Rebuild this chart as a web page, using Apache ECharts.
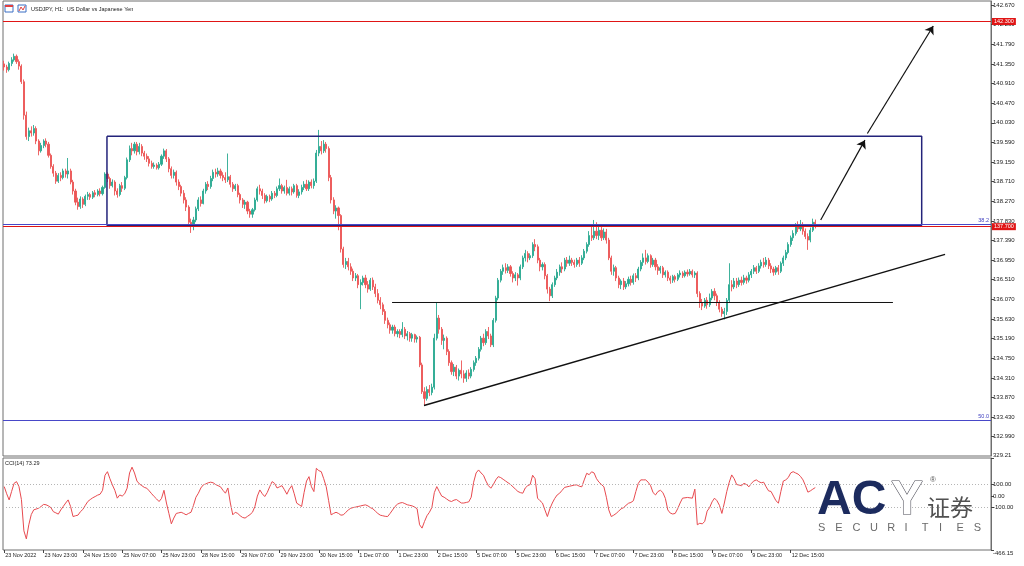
<!DOCTYPE html>
<html><head><meta charset="utf-8">
<script src="https://cdn.jsdelivr.net/npm/echarts@6/dist/echarts.min.js"></script>
<style>html,body{margin:0;padding:0;background:#fff}#c{width:1024px;height:566px}</style>
</head><body><div id="c"></div><script>
const chartTitle = 'USDJPY, H1:  US Dollar vs Japanese Yen';
const cciTitle = 'CCI(14) 73.29';
// [open, close, low, high] per H1 bar
const ohlc = [
[141.35,141.28,141.20,141.42],[141.28,141.22,141.15,141.33],[141.22,141.36,141.18,141.40],[141.36,141.44,141.30,141.50],
[141.44,141.52,141.40,141.58],[141.52,141.40,141.35,141.56],[141.40,141.30,141.22,141.45],[141.30,140.95,140.90,141.34],
[140.95,140.20,140.10,141.00],[140.20,139.72,139.65,140.28],[139.72,139.85,139.62,139.92],[139.85,139.80,139.72,139.95],
[139.80,139.90,139.74,139.98],[139.90,139.62,139.55,139.95],[139.62,139.40,139.30,139.66],[139.40,139.52,139.36,139.58],
[139.52,139.62,139.46,139.66],[139.62,139.55,139.48,139.68],[139.55,139.30,139.25,139.60],[139.30,139.05,139.00,139.34],
[139.05,138.90,138.82,139.10],[138.90,138.72,138.66,138.95],[138.72,138.85,138.68,138.90],[138.85,138.80,138.72,138.92],
[138.80,138.95,138.76,139.00],[138.95,138.88,138.80,139.00],[138.88,138.95,138.78,139.24],[138.95,138.70,138.65,139.00],
[138.70,138.50,138.42,138.75],[138.50,138.25,138.18,138.55],[138.25,138.15,138.08,138.35],[138.15,138.32,138.10,138.38],
[138.32,138.20,138.12,138.36],[138.20,138.38,138.16,138.42],[138.38,138.42,138.30,138.48],[138.42,138.36,138.30,138.46],
[138.36,138.46,138.32,138.50],[138.46,138.42,138.36,138.52],[138.42,138.50,138.38,138.54],[138.50,138.44,138.38,138.56],
[138.44,138.58,138.40,138.62],[138.58,138.88,138.55,138.92],[138.88,138.78,138.70,138.92],[138.78,138.62,138.55,138.82],
[138.62,138.70,138.58,138.76],[138.70,138.50,138.40,138.74],[138.50,138.42,138.35,138.56],[138.42,138.62,138.38,138.66],
[138.62,138.56,138.48,138.70],[138.56,138.80,138.52,138.84],[138.80,139.20,138.76,139.25],[139.20,139.45,139.15,139.52],
[139.45,139.40,139.30,139.58],[139.40,139.55,139.34,139.60],[139.55,139.38,139.30,139.60],[139.38,139.50,139.32,139.58],
[139.50,139.35,139.28,139.55],[139.35,139.28,139.20,139.40],[139.28,139.22,139.15,139.34],[139.22,139.12,139.05,139.28],
[139.12,139.05,139.00,139.18],[139.05,139.08,139.00,139.14],[139.08,139.02,138.98,139.12],[139.02,139.10,138.98,139.15],
[139.10,139.28,139.06,139.32],[139.28,139.40,139.22,139.45],[139.40,139.22,139.15,139.44],[139.22,139.00,138.92,139.26],
[139.00,138.85,138.78,139.05],[138.85,138.92,138.78,138.98],[138.92,138.70,138.62,138.96],[138.70,138.60,138.52,138.76],
[138.60,138.45,138.38,138.64],[138.45,138.30,138.22,138.52],[138.30,138.14,138.05,138.36],[138.14,137.80,137.75,138.18],
[137.80,137.75,137.56,137.88],[137.75,137.85,137.62,137.92],[137.85,138.10,137.80,138.15],[138.10,138.30,138.05,138.36],
[138.30,138.22,138.15,138.38],[138.22,138.50,138.20,138.55],[138.50,138.65,138.44,138.70],[138.65,138.60,138.52,138.72],
[138.60,138.78,138.55,138.84],[138.78,138.92,138.72,138.98],[138.92,138.88,138.80,139.00],[138.88,138.95,138.82,139.02],
[138.95,138.85,138.78,139.00],[138.85,138.80,138.72,138.92],[138.80,138.75,138.68,138.92],[138.75,138.82,138.70,139.34],
[138.82,138.65,138.58,138.86],[138.65,138.55,138.48,138.70],[138.55,138.62,138.50,138.66],[138.62,138.42,138.36,138.66],
[138.42,138.30,138.22,138.46],[138.30,138.20,138.12,138.34],[138.20,138.25,138.10,138.30],[138.25,138.05,137.98,138.28],
[138.05,137.98,137.90,138.10],[137.98,138.08,137.90,138.12],[138.08,138.30,138.04,138.35],[138.30,138.55,138.26,138.60],
[138.55,138.50,138.42,138.64],[138.50,138.40,138.32,138.55],[138.40,138.28,138.22,138.45],[138.28,138.38,138.24,138.42],
[138.38,138.32,138.25,138.42],[138.32,138.45,138.28,138.50],[138.45,138.40,138.34,138.50],[138.40,138.55,138.36,138.60],
[138.55,138.62,138.50,138.78],[138.62,138.50,138.44,138.66],[138.50,138.58,138.44,138.62],[138.58,138.45,138.40,138.75],
[138.45,138.55,138.40,138.60],[138.55,138.48,138.40,138.60],[138.48,138.62,138.44,138.66],[138.62,138.40,138.35,138.66],
[138.40,138.48,138.34,138.54],[138.48,138.58,138.42,138.64],[138.58,138.65,138.52,138.72],[138.65,138.55,138.50,138.75],
[138.55,138.70,138.50,138.74],[138.70,138.62,138.56,138.76],[138.62,138.72,138.55,138.78],[138.72,139.35,138.68,139.42],
[139.35,139.50,139.28,139.87],[139.50,139.40,139.32,139.62],[139.40,139.55,139.35,139.64],[139.55,139.45,139.36,139.60],
[139.45,138.80,138.72,139.50],[138.80,138.30,138.22,138.86],[138.30,138.05,137.98,138.36],[138.05,138.12,137.88,138.18],
[138.12,137.95,137.62,138.15],[137.95,137.20,137.12,137.98],[137.20,136.85,136.78,137.25],[136.85,136.92,136.75,137.00],
[136.92,136.80,136.72,137.00],[136.80,136.70,136.62,136.88],[136.70,136.55,136.48,136.76],[136.55,136.60,136.48,136.66],
[136.60,136.40,136.32,136.64],[136.40,136.45,135.85,136.52],[136.45,136.55,136.38,136.60],[136.55,136.40,136.32,136.62],
[136.40,136.30,136.22,136.48],[136.30,136.50,136.26,136.55],[136.50,136.35,136.28,136.56],[136.35,136.20,136.12,136.42],
[136.20,136.05,135.98,136.30],[136.05,135.95,135.85,136.12],[135.95,135.80,135.72,136.00],[135.80,135.60,135.52,135.85],
[135.60,135.50,135.42,135.66],[135.50,135.38,135.30,135.55],[135.38,135.45,135.30,135.50],[135.45,135.30,135.24,135.50],
[135.30,135.35,135.22,135.40],[135.35,135.28,135.20,135.40],[135.28,135.40,135.22,135.56],[135.40,135.25,135.18,135.45],
[135.25,135.30,135.15,135.36],[135.30,135.20,135.12,135.34],[135.20,135.28,135.12,135.32],[135.28,135.18,135.10,135.30],
[135.18,135.22,135.10,135.26],[135.22,134.60,134.55,135.25],[134.60,134.00,133.95,134.65],[134.00,133.85,133.68,134.10],
[133.85,134.05,133.80,134.12],[134.05,133.98,133.90,134.15],[133.98,134.10,133.92,134.18],[134.10,135.20,134.05,135.30],
[135.20,135.65,135.15,135.99],[135.65,135.40,135.30,135.72],[135.40,135.15,135.05,135.45],[135.15,135.20,134.95,135.28],
[135.20,134.90,134.82,135.24],[134.90,134.65,134.58,134.95],[134.65,134.45,134.38,134.70],[134.45,134.55,134.35,134.62],
[134.55,134.35,134.28,134.60],[134.35,134.48,134.25,134.52],[134.48,134.40,134.30,134.70],[134.40,134.30,134.20,134.48],
[134.30,134.42,134.22,134.48],[134.42,134.35,134.28,134.50],[134.35,134.50,134.30,134.55],[134.50,134.65,134.45,134.70],
[134.65,134.75,134.58,134.80],[134.75,134.95,134.70,135.00],[134.95,135.20,134.90,135.25],[135.20,135.10,135.02,135.30],
[135.10,135.35,135.05,135.40],[135.35,135.25,135.18,135.45],[135.25,135.05,135.00,135.30],[135.05,135.60,135.00,135.65],
[135.60,136.10,135.55,136.15],[136.10,136.50,136.05,136.55],[136.50,136.70,136.45,136.75],[136.70,136.78,136.62,136.85],
[136.78,136.72,136.65,136.88],[136.72,136.80,136.66,136.86],[136.80,136.65,136.58,136.84],[136.65,136.55,136.45,136.70],
[136.55,136.62,136.48,136.68],[136.62,136.55,136.38,136.66],[136.55,136.80,136.50,136.85],[136.80,137.00,136.75,137.05],
[137.00,137.10,136.92,137.18],[137.10,137.00,136.90,137.15],[137.00,137.05,136.95,137.10],[137.05,137.30,137.00,137.35],
[137.30,137.25,137.15,137.42],[137.25,136.95,136.88,137.30],[136.95,136.80,136.70,137.00],[136.80,136.85,136.72,136.90],
[136.85,136.60,136.52,136.90],[136.60,136.30,136.20,136.64],[136.30,136.15,136.03,136.35],[136.15,136.40,136.10,136.45],
[136.40,136.55,136.35,136.60],[136.55,136.68,136.50,136.75],[136.68,136.80,136.60,136.85],[136.80,136.75,136.66,136.90],
[136.75,136.95,136.70,137.00],[136.95,136.88,136.80,137.02],[136.88,136.95,136.82,137.05],[136.95,136.90,136.82,137.00],
[136.90,136.85,136.78,136.96],[136.85,136.95,136.80,137.00],[136.95,136.88,136.80,137.02],[136.88,137.00,136.84,137.06],
[137.00,137.15,136.95,137.20],[137.15,137.30,137.10,137.35],[137.30,137.50,137.25,137.60],[137.50,137.45,137.38,137.70],
[137.45,137.60,137.40,137.85],[137.60,137.50,137.42,137.80],[137.50,137.62,137.40,137.70],[137.62,137.45,137.38,137.75],
[137.45,137.58,137.40,137.66],[137.58,137.40,137.32,137.65],[137.40,137.00,136.95,137.45],[137.00,136.70,136.62,137.05],
[136.70,136.78,136.60,136.85],[136.78,136.55,136.48,136.82],[136.55,136.40,136.32,136.60],[136.40,136.48,136.30,136.52],
[136.48,136.35,136.28,136.55],[136.35,136.42,136.30,136.48],[136.42,136.52,136.36,136.58],[136.52,136.45,136.38,136.60],
[136.45,136.60,136.40,136.65],[136.60,136.55,136.46,136.66],[136.55,136.75,136.50,136.80],[136.75,136.90,136.70,136.95],
[136.90,137.00,136.82,137.10],[137.00,136.92,136.85,137.18],[136.92,137.05,136.88,137.10],[137.05,136.85,136.78,137.08],
[136.85,136.95,136.80,137.00],[136.95,136.80,136.72,137.00],[136.80,136.72,136.62,136.86],[136.72,136.78,136.65,136.82],
[136.78,136.62,136.55,136.82],[136.62,136.68,136.56,136.72],[136.68,136.55,136.48,136.72],[136.55,136.50,136.42,136.60],
[136.50,136.58,136.44,136.62],[136.58,136.52,136.45,136.62],[136.52,136.62,136.48,136.66],[136.62,136.66,136.56,136.72],
[136.66,136.60,136.55,136.70],[136.60,136.68,136.56,136.72],[136.68,136.64,136.58,136.74],[136.64,136.70,136.60,136.75],
[136.70,136.62,136.56,136.74],[136.62,136.66,136.55,136.70],[136.66,136.20,136.12,136.70],[136.20,136.00,135.88,136.25],
[136.00,135.92,135.83,136.08],[135.92,136.05,135.88,136.10],[136.05,135.95,135.86,136.12],[135.95,136.10,135.90,136.20],
[136.10,136.25,136.05,136.30],[136.25,136.15,136.05,136.32],[136.15,136.00,135.92,136.20],[136.00,135.85,135.78,136.05],
[135.85,135.75,135.68,135.90],[135.75,135.80,135.62,135.88],[135.80,136.05,135.72,136.10],[136.05,136.40,136.00,136.88],
[136.40,136.35,136.25,136.50],[136.35,136.48,136.30,136.55],[136.48,136.40,136.32,136.55],[136.40,136.50,136.35,136.56],
[136.50,136.45,136.38,136.58],[136.45,136.55,136.40,136.62],[136.55,136.50,136.42,136.60],[136.50,136.62,136.45,136.68],
[136.62,136.70,136.55,136.75],[136.70,136.78,136.64,136.84],[136.78,136.70,136.64,136.82],[136.70,136.82,136.66,136.88],
[136.82,136.90,136.76,136.96],[136.90,136.85,136.78,137.00],[136.85,136.95,136.80,137.02],[136.95,136.82,136.75,137.00],
[136.82,136.75,136.66,136.88],[136.75,136.68,136.60,136.80],[136.68,136.78,136.62,136.82],[136.78,136.70,136.62,136.84],
[136.70,136.88,136.66,136.92],[136.88,137.00,136.82,137.05],[137.00,137.12,136.95,137.18],[137.12,137.30,137.08,137.35],
[137.30,137.45,137.25,137.50],[137.45,137.55,137.38,137.62],[137.55,137.70,137.50,137.78],[137.70,137.65,137.58,137.82],
[137.65,137.75,137.60,137.85],[137.75,137.60,137.52,137.80],[137.60,137.48,137.42,137.66],[137.48,137.40,137.18,137.55],
[137.40,137.62,137.35,137.68],[137.62,137.80,137.58,137.88],[137.80,137.72,137.66,137.86]
];
// CCI(14) per bar
const cci = [
82,20,-33,40,110,125,82,-30,-300,-370,-248,-160,-119,-112,-105,-90,-72,-75,-85,-100,
-135,-145,-156,-120,-90,-60,-33,-90,-177,-170,-165,-135,-115,-80,-47,-30,-15,-4,8,16,
50,180,211,150,97,50,-18,10,0,20,68,200,250,200,130,105,90,75,68,45,
20,-4,-25,-47,-20,50,-60,-150,-240,-190,-150,-145,-140,-150,-162,-150,-140,-80,-10,25,
70,97,105,115,120,115,100,90,80,50,25,70,-60,-162,-140,-150,-170,-185,-190,-175,
-160,-140,-90,0,53,20,-4,30,80,125,110,70,80,90,55,16,60,90,20,-61,
-75,-90,30,130,168,80,39,240,220,211,150,82,-40,-162,-150,-140,-150,-165,-162,-140,
-120,-105,-99,-95,-90,-85,-80,-76,-85,-100,-110,-130,-150,-165,-170,-175,-177,-150,-120,-90,
-70,-60,-56,-65,-75,-80,-85,-95,-110,-248,-277,-220,-170,-140,-99,30,82,40,0,-10,
-25,-40,-47,-35,-30,-45,-60,-60,-55,-50,-10,120,200,226,200,180,130,90,68,100,
140,168,160,145,130,115,100,80,60,40,30,25,70,90,100,180,150,-18,-40,-60,
-120,-177,-110,-60,-20,10,25,50,75,80,85,90,95,97,85,80,140,197,185,210,
200,150,120,100,80,-10,-120,-177,-165,-150,-130,-110,-100,-80,-62,-55,-40,40,110,140,
140,140,120,90,30,10,40,50,30,-20,-120,-147,-155,-150,-110,-60,-18,-15,-12,-15,
-18,60,-248,-235,-240,-220,-130,-100,-50,-18,-40,-80,-150,-60,40,120,183,150,100,95,
90,110,100,80,110,130,140,125,115,120,80,45,40,0,-40,-61,40,130,140,160,
200,211,200,190,170,140,90,34,45,60,73.29
];
const timeLabels = ['23 Nov 2022','23 Nov 23:00','24 Nov 15:00','25 Nov 07:00','25 Nov 23:00','28 Nov 15:00',
'29 Nov 07:00','29 Nov 23:00','30 Nov 15:00','1 Dec 07:00','1 Dec 23:00','2 Dec 15:00','5 Dec 07:00',
'5 Dec 23:00','6 Dec 15:00','7 Dec 07:00','7 Dec 23:00','8 Dec 15:00','9 Dec 07:00','9 Dec 23:00','12 Dec 15:00'];
const barsPerLabel = 16;
const priceTicks = [142.670,142.230,141.790,141.350,140.910,140.470,140.030,139.590,139.150,138.710,138.270,137.830,
137.390,136.950,136.510,136.070,135.630,135.190,134.750,134.310,133.870,133.430,132.990];
const priceMin = 132.558, priceMax = 142.760;
const cciTicks = [329.21, 100, 0, -100, -466.15];
const cciMin = -466.15, cciMax = 329.21;
const cciLevels = [100, -100];
const slotCount = 402; // bars that fit the chart width incl. right-side shift
const redLevels = [142.300, 137.700];
const fibLevels = [['38.2', 137.75], ['50.0', 133.35]];
const rangeBox = [[41.8,139.73],[373.3,139.73],[373.3,137.73],[41.8,137.73],[41.8,139.73]];
const supportLine = [[157.8,136.00],[361.6,136.00]];
const trendLine = [[170.8,133.69],[382.8,137.08]];
const arrowLines = [[[332.2,137.85],[350.2,139.64]],[[351.2,139.79],[378.0,142.20]]];

const slots = Array.from({length: slotCount}, (_, i) => String(i));
const FONT = 'Liberation Sans';
const showLabel = (i) => i % barsPerLabel === 0 && i / barsPerLabel < timeLabels.length;

const chart = echarts.init(document.getElementById('c'), null, {renderer: 'canvas'});
const logoLetters = 'SECURITIES'.split('');
const graphics = [
  {type:'rect', shape:{x:5,y:5,width:8,height:7}, style:{fill:'#fff', stroke:'#3a6fc4', lineWidth:1}},
  {type:'rect', shape:{x:5,y:5,width:8,height:2}, style:{fill:'#e04040'}},
  {type:'rect', shape:{x:18,y:5,width:8,height:7}, style:{fill:'#fff', stroke:'#3a6fc4', lineWidth:1}},
  {type:'polyline', shape:{points:[[19,11],[21,7],[23,10],[25,6]]}, style:{stroke:'#e04040', lineWidth:1, fill:null}},
  {type:'text', x:31, y:9, style:{text: chartTitle, font:'5.5px ' + FONT, fill:'#222', verticalAlign:'middle'}},
  {type:'text', x:5, y:463, style:{text: cciTitle, font:'5.5px ' + FONT, fill:'#222', verticalAlign:'middle'}},
  {type:'text', x:817, y:501, z:10, style:{text:'AC', font:'bold 48px ' + FONT, fill:'#1c2b5e', verticalAlign:'middle'}},
  {type:'text', x:891, y:501, z:10, style:{text:'Y', font:'bold 48px ' + FONT, fill:'#fff', stroke:'#4a4a55', lineWidth:1.2, verticalAlign:'middle'}},
  {type:'text', x:930, y:480, z:10, style:{text:'®', font:'8px ' + FONT, fill:'#555', verticalAlign:'middle'}},
  {type:'text', x:927, y:507, z:10, style:{text:'证券', font:'23px "Noto Sans CJK SC"', fill:'#505050', verticalAlign:'middle'}},
];
logoLetters.forEach((ch, k) => graphics.push({type:'text', x: 818 + k * 17.3, y: 528, z:10,
  style:{text: ch, font:'11px ' + FONT, fill:'#6a6a6a', verticalAlign:'middle'}}));

const option = {
  animation: false,
  backgroundColor: '#fff',
  grid: [
    {left:3, right:33, top:1, height:455, show:true, borderColor:'#6e6e6e', borderWidth:1, backgroundColor:'transparent'},
    {left:3, right:33, top:458, height:92, show:true, borderColor:'#6e6e6e', borderWidth:1, backgroundColor:'transparent'}
  ],
  xAxis: [
    {type:'category', gridIndex:0, data:slots, boundaryGap:true, axisLine:{show:false, onZero:false}, axisTick:{show:false}, axisLabel:{show:false}, splitLine:{show:false}},
    {type:'category', gridIndex:1, data:slots, boundaryGap:true, position:'bottom', axisLine:{show:false, onZero:false},
      axisTick:{show:true, alignWithLabel:true, length:3, interval:(i) => showLabel(i), lineStyle:{color:'#444'}},
      axisLabel:{interval:(i) => showLabel(i), formatter:(v, i) => showLabel(i) ? timeLabels[i / barsPerLabel] : '',
        fontSize:5.5, fontFamily:FONT, color:'#222', align:'left', margin:2, padding:[0,0,0,1]},
      splitLine:{show:false}},
    {type:'value', gridIndex:0, min:-0.5, max:slotCount - 0.5, show:false, axisLine:{onZero:false}}
  ],
  yAxis: [
    {type:'value', gridIndex:0, position:'right', min:priceMin, max:priceMax, splitLine:{show:false},
      axisLine:{show:true, onZero:false, lineStyle:{color:'#6e6e6e'}},
      axisTick:{show:true, length:3, customValues:priceTicks, lineStyle:{color:'#444'}},
      axisLabel:{customValues:priceTicks, formatter:(v) => Number(v).toFixed(3), fontSize:6, fontFamily:FONT, color:'#222', margin:2}},
    {type:'value', gridIndex:1, position:'right', min:cciMin, max:cciMax, splitLine:{show:false},
      axisLine:{show:true, onZero:false, lineStyle:{color:'#6e6e6e'}},
      axisTick:{show:true, length:3, customValues:cciTicks, lineStyle:{color:'#444'}},
      axisLabel:{customValues:cciTicks, formatter:(v) => Number(v).toFixed(2), fontSize:6, fontFamily:FONT, color:'#222', margin:2,
        verticalAlignMaxLabel:'top', verticalAlignMinLabel:'bottom'}}
  ],
  graphic: graphics,
  series: [
    {type:'candlestick', name:'USDJPY', xAxisIndex:0, yAxisIndex:0, data:ohlc, barWidth:1.6,
      itemStyle:{color:'#2aa991', color0:'#ec5656', borderColor:'#2aa991', borderColor0:'#ec5656', borderWidth:0.9},
      markLine:{silent:true, symbol:'none', animation:false, data:[
        ...fibLevels.map(([name, v]) => ({yAxis:v, lineStyle:{color:'#4848c8', width:1, type:'solid'},
          label:{show:true, position:'insideEndTop', formatter:name, color:'#4040c0', fontSize:5.5, fontFamily:FONT, distance:[2,1]}})),
        ...redLevels.map((v) => ({yAxis:v, lineStyle:{color:'#e01515', width:1, type:'solid'},
          label:{show:true, position:'end', formatter:v.toFixed(3), color:'#fff', backgroundColor:'#e01515', fontSize:5.5, fontFamily:FONT, padding:[1,2,0,2], distance:1}}))
      ]}},
    {type:'line', name:'CCI', xAxisIndex:1, yAxisIndex:1, data:cci, showSymbol:false, symbol:'none',
      lineStyle:{color:'#e84a4f', width:1}, z:3,
      markLine:{silent:true, symbol:'none', animation:false, label:{show:false},
        lineStyle:{color:'#b5b5b5', type:[1,2], width:1}, data:cciLevels.map((v) => ({yAxis:v}))}},
    {type:'line', name:'range', xAxisIndex:2, yAxisIndex:0, data:rangeBox, symbol:'none', z:4,
      lineStyle:{color:'#23237a', width:1.5}},
    {type:'line', name:'support', xAxisIndex:2, yAxisIndex:0, data:supportLine, symbol:'none', z:4,
      lineStyle:{color:'#111', width:1}},
    {type:'line', name:'trend', xAxisIndex:2, yAxisIndex:0, data:trendLine, symbol:'none', z:4,
      lineStyle:{color:'#111', width:1.4},
      markLine:{silent:true, symbol:['none','arrow'], symbolSize:8, animation:false, label:{show:false},
        lineStyle:{color:'#111', width:1.2, type:'solid'},
        data:arrowLines.map(([a, b]) => [{coord:a}, {coord:b}])}}
  ]
};
chart.setOption(option);
</script></body></html>
